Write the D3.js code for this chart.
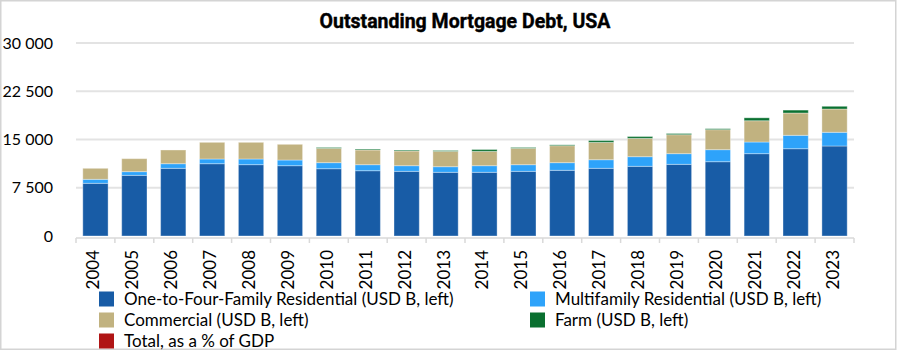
<!DOCTYPE html>
<html>
<head>
<meta charset="utf-8">
<script src="https://cdn.jsdelivr.net/npm/d3@7"></script>
<style>
  body { margin: 0; background: #fff; }
  svg { display: block; }
</style>
</head>
<body>
<svg id="chart" width="900" height="351"></svg>
<script>
// data (USD B)
const years = ['2004','2005','2006','2007','2008','2009','2010','2011','2012','2013',
               '2014','2015','2016','2017','2018','2019','2020','2021','2022','2023'];
const oneToFour   = [8190, 9430, 10520, 11240, 11090, 10930, 10460, 10150, 10050, 9900,
                     9900, 10050, 10210, 10520, 10830, 11140, 11550, 12800, 13570, 13990];
const multifamily = [620, 570, 720, 730, 880, 880, 940, 935, 880, 875,
                     1030, 1035, 1190, 1340, 1500, 1660, 1870, 1810, 2080, 2130];
const commercial  = [1710, 2020, 2130, 2590, 2590, 2440, 2230, 2285, 2280, 2385,
                     2230, 2545, 2640, 2700, 2850, 2950, 3110, 3310, 3470, 3620];
const farm        = [0, 0, 0, 0, 0, 0, 130, 130, 130, 130,
                     280, 130, 130, 280, 280, 180, 150, 450, 450, 420];
const yTicks = [0, 7500, 15000, 22500, 30000];

const seriesNames = ['One-to-Four-Family Residential (USD B, left)',
                     'Multifamily Residential (USD B, left)',
                     'Commercial (USD B, left)',
                     'Farm (USD B, left)',
                     'Total, as a % of GDP'];
const colors = ['#185ca6', '#2ea3fa', '#c1b280', '#0a7030', '#b01515'];

const font = 'Lato, "Open Sans", sans-serif';
const svg = d3.select('#chart');
const margin = {left: 76, right: 46, top: 43, bottom: 115};
const width = 900, height = 351;

// frame around the picture
svg.append('rect')
    .attr('x', 0.75).attr('y', 0.75)
    .attr('width', 895).attr('height', 348.5)
    .attr('fill', 'none').attr('stroke', '#d4d4d4').attr('stroke-width', 1.5);

svg.append('text')
    .attr('x', 465).attr('y', 28)
    .attr('text-anchor', 'middle')
    .attr('font-family', '"Liberation Sans Narrow", Roboto, sans-serif')
    .attr('font-weight', 'bold')
    .attr('font-size', 19.5)
    .attr('stroke', '#000').attr('stroke-width', 0.4)
    .attr('fill', '#000')
    .text('Outstanding Mortgage Debt, USA');

const x = d3.scaleBand()
    .domain(years)
    .range([margin.left, width - margin.right])
    .paddingInner(0.35)
    .paddingOuter(0.175);

const y = d3.scaleLinear()
    .domain([0, 30000])
    .range([height - margin.bottom, margin.top]);

// gridlines
svg.append('g')
    .selectAll('line')
    .data(yTicks.slice(1))
    .join('line')
    .attr('x1', margin.left).attr('x2', width - margin.right)
    .attr('y1', d => y(d)).attr('y2', d => y(d))
    .attr('stroke', '#e3e3e3').attr('stroke-width', 2);

// y axis labels
const yAxis = svg.append('g')
    .attr('transform', `translate(${margin.left - 20},0)`)
    .call(d3.axisLeft(y).tickValues(yTicks).tickSize(0)
        .tickFormat(d => d3.format(',')(d).replace(',', ' ')));
yAxis.select('.domain').remove();
yAxis.selectAll('text')
    .attr('font-family', font).attr('font-size', 16).attr('fill', '#000');

// stacked bars
const rows = years.map((yr, i) => ({
    year: yr, s0: oneToFour[i], s1: multifamily[i], s2: commercial[i], s3: farm[i]
}));
const stack = d3.stack().keys(['s0', 's1', 's2', 's3'])(rows);

svg.append('g')
    .selectAll('g')
    .data(stack)
    .join('g')
    .attr('fill', (d, i) => colors[i])
    .selectAll('rect')
    .data(d => d.filter(p => p[1] > p[0]))
    .join('rect')
    .attr('x', d => x(d.data.year))
    .attr('width', x.bandwidth())
    .attr('y', d => y(d[1]))
    .attr('height', d => y(d[0]) - y(d[1]))
    .attr('stroke', '#ffffff').attr('stroke-opacity', 0.35).attr('stroke-width', 1);

// x axis line and ticks at band boundaries
const axisY = y(0) + 2;
const xg = svg.append('g');
xg.append('line')
    .attr('x1', margin.left).attr('x2', width - margin.right)
    .attr('y1', axisY).attr('y2', axisY)
    .attr('stroke', '#d9d9d9').attr('stroke-width', 1.5);
const edges = years.map(d => x(d) - x.step() * x.paddingInner() / 2)
    .concat([width - margin.right]);
xg.selectAll('.tk')
    .data(edges)
    .join('line')
    .attr('x1', d => d).attr('x2', d => d)
    .attr('y1', axisY).attr('y2', axisY + 5)
    .attr('stroke', '#d9d9d9').attr('stroke-width', 1.5);

xg.selectAll('.yr')
    .data(years)
    .join('text')
    .attr('transform', d => `translate(${x(d) + x.bandwidth() / 2 + 4},${axisY + 12}) rotate(-90)`)
    .attr('text-anchor', 'end')
    .attr('font-family', font).attr('font-size', 17).attr('fill', '#000')
    .text(d => d);

// legend
const legendPos = [[99, 299], [530, 299], [99, 320], [530, 320], [99, 341]];
const lg = svg.append('g')
    .selectAll('g')
    .data(seriesNames)
    .join('g')
    .attr('transform', (d, i) => `translate(${legendPos[i][0]},${legendPos[i][1]})`);
lg.append('rect')
    .attr('x', 0).attr('y', -7.5)
    .attr('width', 15).attr('height', 15)
    .attr('fill', (d, i) => colors[i]);
lg.append('text')
    .attr('x', 25).attr('y', 0).attr('dy', '0.35em')
    .attr('font-family', font).attr('font-size', 17).attr('fill', '#000')
    .text(d => d);
</script>
</body>
</html>
